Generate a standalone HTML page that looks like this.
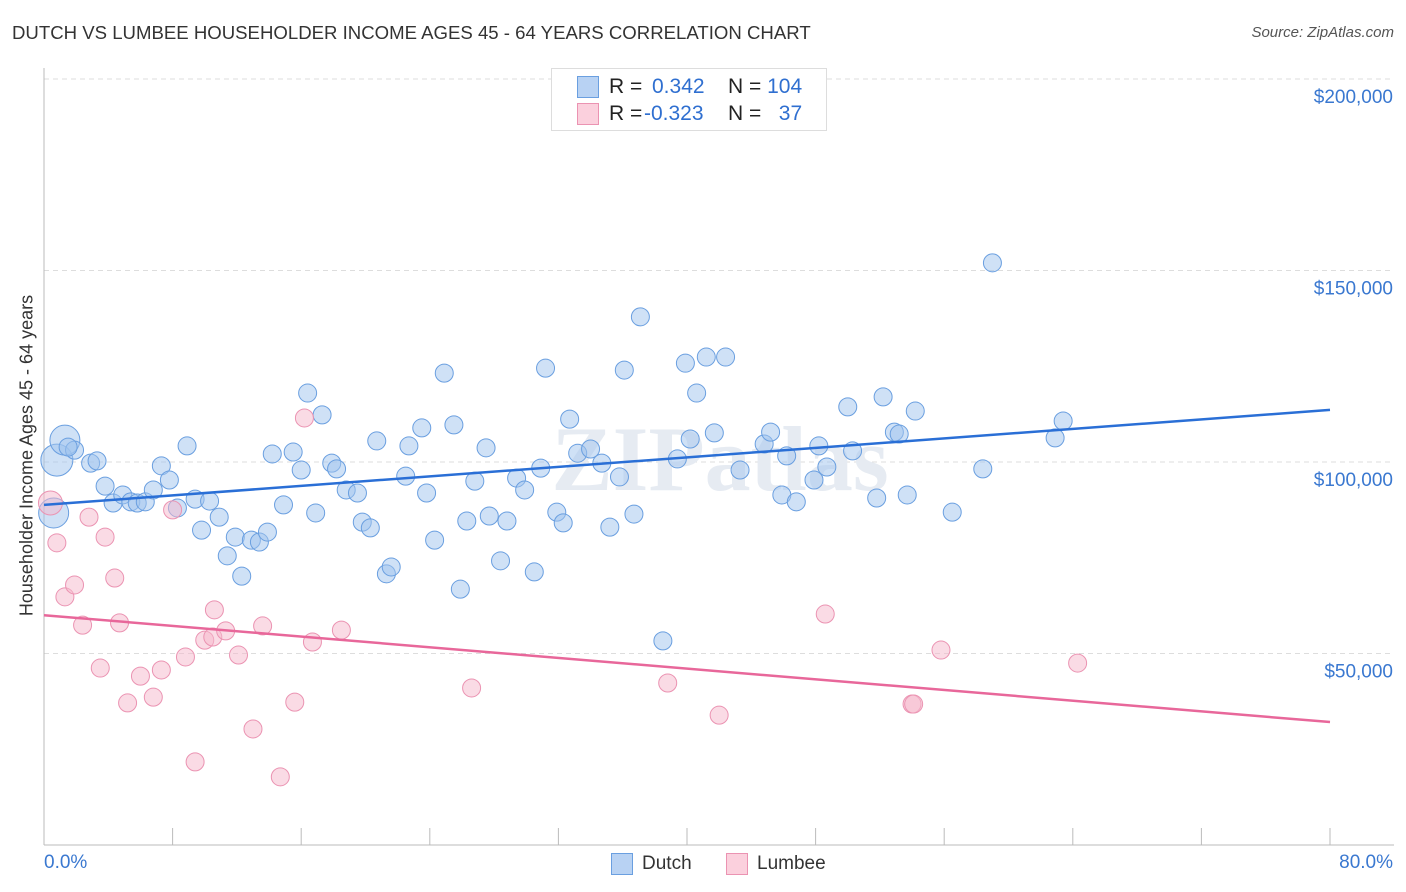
<!DOCTYPE html>
<html><head><meta charset="utf-8">
<style>
body{margin:0;background:#fff;font-family:"Liberation Sans",sans-serif;}
#wrap{position:relative;width:1406px;height:892px;overflow:hidden;}
.t{position:absolute;white-space:nowrap;}
</style></head>
<body>
<div id="wrap">
<div class="t" style="left:12px;top:22px;font-size:18.6px;color:#333;">DUTCH VS LUMBEE HOUSEHOLDER INCOME AGES 45 - 64 YEARS CORRELATION CHART</div>
<div class="t" style="right:12px;top:24px;font-size:15px;color:#555;font-style:italic;">Source: ZipAtlas.com</div>
<svg id="svg" width="1406" height="892" style="position:absolute;left:0;top:0"></svg>
</div>
<script>
const dutchX=[0.8,1.3,0.6,1.9,1.5,2.9,3.3,3.8,4.3,4.9,5.4,5.8,6.3,6.8,7.3,7.8,8.3,8.9,9.4,9.8,10.3,10.9,11.4,11.9,12.3,12.9,13.4,13.9,14.2,14.9,15.5,16.0,16.4,16.9,17.3,17.9,18.2,18.8,19.5,19.8,20.3,20.7,21.3,21.6,22.5,22.7,23.5,23.8,24.3,24.9,25.5,25.9,26.3,26.8,27.5,27.7,28.4,28.8,29.4,29.9,30.5,30.9,31.2,31.9,32.3,32.7,33.2,34.0,34.7,35.2,35.8,36.1,36.7,37.1,38.5,39.4,39.9,40.2,40.6,41.2,41.7,42.4,43.3,44.8,45.2,45.9,46.2,46.8,47.9,48.2,48.7,50.0,50.3,51.8,52.2,52.9,53.2,53.7,54.2,56.5,58.4,59.0,62.9,63.4];
const dutchY=[100.5,105.7,86.7,103.1,103.9,99.7,100.3,93.7,89.3,91.4,89.6,89.3,89.6,92.7,99.0,95.3,88.0,104.2,90.3,82.2,89.8,85.6,75.5,80.4,70.2,79.6,79.1,81.7,102.1,88.8,102.6,97.9,118.0,86.7,112.3,99.7,98.2,92.7,91.9,84.3,82.8,105.5,70.8,72.6,96.3,104.2,108.9,91.9,79.6,123.2,109.7,66.8,84.6,95.0,103.7,85.9,74.2,84.6,95.8,92.7,71.3,98.4,124.5,86.9,84.1,111.2,102.3,103.4,99.7,83.0,96.1,124.0,86.4,137.9,53.3,100.8,125.8,106.0,118.0,127.4,107.6,127.4,97.9,104.7,107.8,91.4,101.6,89.6,95.3,104.2,98.7,114.4,102.9,90.6,117.0,107.8,107.3,91.4,113.3,86.9,98.2,152.0,106.3,110.7];
const lumbeeX=[0.4,0.8,1.3,1.9,2.4,2.8,3.5,3.8,4.4,4.7,5.2,6.0,6.8,7.3,8.0,8.8,9.4,10.0,10.5,10.6,11.3,12.1,13.0,13.6,14.7,15.6,16.2,16.7,18.5,26.6,38.8,42.0,48.6,54.0,54.1,55.8,64.3];
const lumbeeY=[89.3,78.9,64.8,67.9,57.4,85.6,46.2,80.4,69.7,58.0,37.1,44.1,38.6,45.7,87.5,49.1,21.7,53.5,54.3,61.4,55.9,49.6,30.3,57.2,17.8,37.3,111.5,53.0,56.1,41.0,42.3,33.9,60.3,36.8,36.8,50.9,47.5];
const dutchTrend=[88.8,113.6];
const lumbeeTrend=[60.0,32.1];
const yTicks=[50,100,150,200];
const yTickLabels=["$50,000","$100,000","$150,000","$200,000"];
const xTicks=[0,8,16,24,32,40,48,56,64,72,80];

const NS="http://www.w3.org/2000/svg";
const svg=document.getElementById('svg');
const X=v=>44+v*1286/80;
const Y=v=>462-(v-100)*3.83;
function mk(tag,a,parent){const e=document.createElementNS(NS,tag);for(const k in a)e.setAttribute(k,a[k]);(parent||svg).appendChild(e);return e;}

yTicks.forEach((t,i)=>{
  const g=mk('line',{x1:44,x2:1394,y1:Y(t),y2:Y(t),stroke:'#ddd','stroke-dasharray':'5,4'});
  
  
  const tx=mk('text',{x:1393,y:Y(t)+24,'text-anchor':'end','font-size':19,fill:'#3a78d0','font-family':'Liberation Sans, sans-serif'});
  tx.textContent=yTickLabels[i];
  
  
});
const ax=mk('line',{x1:44,x2:44,y1:68,y2:845,stroke:'#bbb'});


const bx=mk('line',{x1:44,x2:1394,y1:845,y2:845,stroke:'#bbb'});


xTicks.forEach(t=>{
  const l=mk('line',{x1:X(t),x2:X(t),y1:828,y2:845,stroke:'#bbb'});
  
  
});
const wm=mk('text',{x:720,y:490,'text-anchor':'middle','font-size':92,fill:'#e6ebf2','font-family':'Liberation Serif, serif','font-weight':'bold'});
wm.textContent='ZIPatlas';



dutchX.forEach((x,i)=>{
  const r=i===0?16:(i<3?15:9);
  const c=mk('circle',{cx:X(x),cy:Y(dutchY[i]),r:r,fill:'rgba(160,195,238,0.5)',stroke:'#6a9fe0','stroke-width':1});
  
  
});
lumbeeX.forEach((x,i)=>{
  const r=i===0?12:9;
  const c=mk('circle',{cx:X(x),cy:Y(lumbeeY[i]),r:r,fill:'rgba(246,184,204,0.5)',stroke:'#eb93b2','stroke-width':1});
  
  
});
const t1=mk('line',{x1:X(0),y1:Y(dutchTrend[0]),x2:X(80),y2:Y(dutchTrend[1]),stroke:'#2a6fd6','stroke-width':2.5});


const t2=mk('line',{x1:X(0),y1:Y(lumbeeTrend[0]),x2:X(80),y2:Y(lumbeeTrend[1]),stroke:'#e8679a','stroke-width':2.5});


</script>
<div class="t" style="left:-173px;top:445px;width:400px;text-align:center;transform:rotate(-90deg);font-size:18px;color:#333;">Householder Income Ages 45 - 64 years</div>
<div class="t" style="left:44px;top:852px;font-size:19px;color:#3a78d0;">0.0%</div>
<div class="t" style="right:13px;top:852px;font-size:19px;color:#3a78d0;">80.0%</div>
<div style="position:absolute;left:551px;top:68px;width:274px;height:61px;border:1px solid #ddd;background:#fff;font-size:21px;">
  <div style="position:absolute;left:25px;top:7px;width:20px;height:20px;background:#b8d2f3;border:1px solid #6a9fe0;"></div>
  <div class="t" style="left:57px;top:6px;color:#222;">R = </div>
  <div class="t" style="left:100px;top:6px;color:#2f6fd0;">0.342</div>
  <div class="t" style="left:176px;top:6px;color:#222;">N = <span style="color:#2f6fd0">104</span></div>
  <div style="position:absolute;left:25px;top:34px;width:20px;height:20px;background:#fbd0dd;border:1px solid #eb93b2;"></div>
  <div class="t" style="left:57px;top:33px;color:#222;">R = </div>
  <div class="t" style="left:92px;top:33px;color:#2f6fd0;">-0.323</div>
  <div class="t" style="left:176px;top:33px;color:#222;">N = <span style="color:#2f6fd0">&nbsp;&nbsp;37</span></div>
</div>
<div style="position:absolute;left:611px;top:853px;">
  <div style="position:absolute;left:0;top:0;width:20px;height:20px;background:#b8d2f3;border:1px solid #6a9fe0;"></div>
  <div class="t" style="left:31px;top:0;font-size:19px;color:#333;">Dutch</div>
</div>
<div style="position:absolute;left:726px;top:853px;">
  <div style="position:absolute;left:0;top:0;width:20px;height:20px;background:#fbd0dd;border:1px solid #eb93b2;"></div>
  <div class="t" style="left:31px;top:0;font-size:19px;color:#333;">Lumbee</div>
</div>
</body></html>
